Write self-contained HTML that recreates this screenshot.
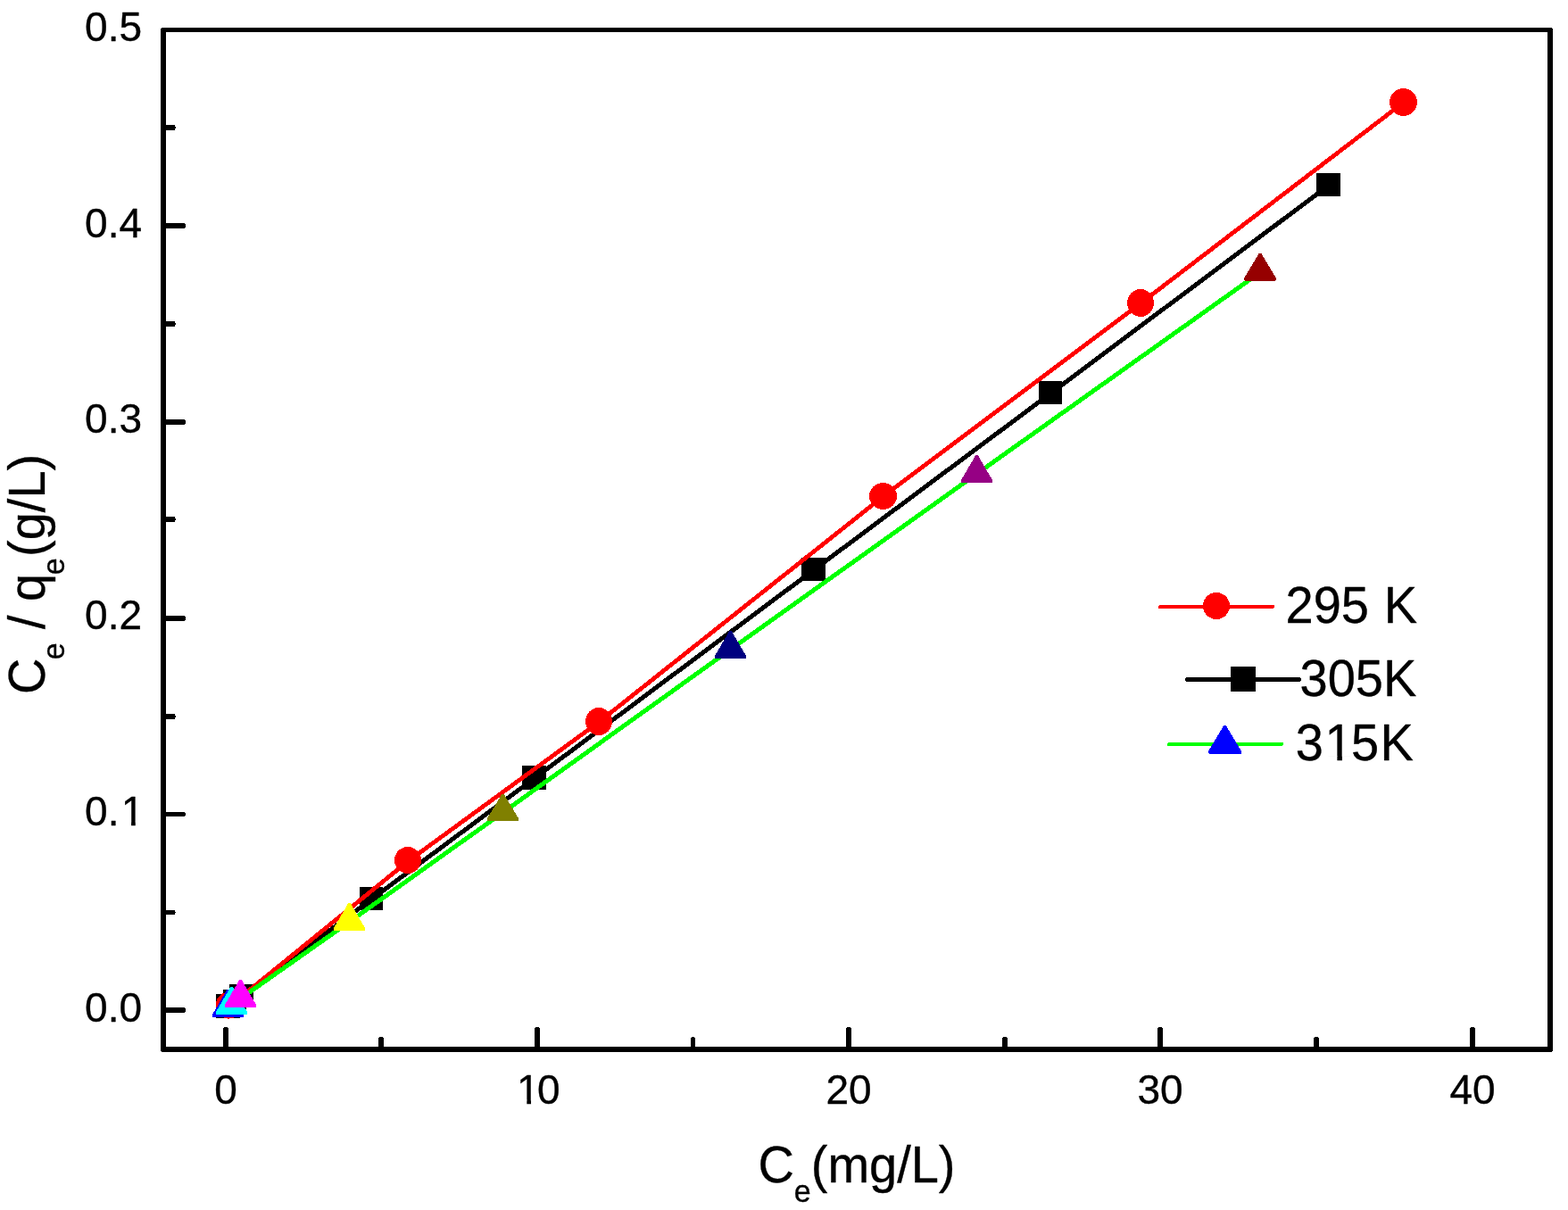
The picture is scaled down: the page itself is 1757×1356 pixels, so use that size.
<!DOCTYPE html>
<html lang="en">
<head>
<meta charset="utf-8">
<title>Ce / qe versus Ce</title>
<style>
html,body{margin:0;padding:0;background:#fff;}
body{width:1757px;height:1356px;overflow:hidden;}
svg{display:block;}
text{font-family:"Liberation Sans",sans-serif;fill:#000;stroke:#000;stroke-width:0.35px;stroke-linejoin:round;white-space:pre;}
.tick{font-size:46px;}
.lab{font-size:56px;}
.sub{font-size:34px;}
</style>
</head>
<body>
<svg width="1757" height="1356" viewBox="0 0 1757 1356">
<rect x="0" y="0" width="1757" height="1356" fill="#ffffff"/>
<g shape-rendering="crispEdges" fill="#000">
<rect x="181" y="31" width="1558" height="5"/>
<rect x="181" y="1173" width="1558" height="6"/>
<rect x="180" y="32" width="6" height="1146"/>
<rect x="1734" y="32" width="6" height="1146"/>
</g>
<g fill="#000" shape-rendering="crispEdges">
<rect x="250" y="1152" width="6" height="22"/><rect x="251" y="1151" width="4" height="1"/>
<rect x="599" y="1152" width="6" height="22"/><rect x="600" y="1151" width="4" height="1"/>
<rect x="948" y="1152" width="6" height="22"/><rect x="949" y="1151" width="4" height="1"/>
<rect x="1297" y="1152" width="6" height="22"/><rect x="1298" y="1151" width="4" height="1"/>
<rect x="1647" y="1152" width="6" height="22"/><rect x="1648" y="1151" width="4" height="1"/>
<rect x="424" y="1163" width="6" height="11"/><rect x="425" y="1162" width="4" height="1"/>
<rect x="774" y="1163" width="5" height="11"/><rect x="775" y="1162" width="3" height="1"/>
<rect x="1123" y="1163" width="6" height="11"/><rect x="1124" y="1162" width="4" height="1"/>
<rect x="1472" y="1163" width="6" height="11"/><rect x="1473" y="1162" width="4" height="1"/>
<rect x="185" y="1129" width="22" height="6"/><rect x="207" y="1130" width="1" height="4"/>
<rect x="185" y="910" width="22" height="5"/><rect x="207" y="911" width="1" height="3"/>
<rect x="185" y="690" width="22" height="6"/><rect x="207" y="691" width="1" height="4"/>
<rect x="185" y="470" width="22" height="6"/><rect x="207" y="471" width="1" height="4"/>
<rect x="185" y="250" width="22" height="6"/><rect x="207" y="251" width="1" height="4"/>
<rect x="185" y="1020" width="11" height="5"/><rect x="196" y="1022" width="1" height="1"/>
<rect x="185" y="800" width="11" height="6"/><rect x="196" y="802" width="1" height="2"/>
<rect x="185" y="579" width="11" height="6"/><rect x="196" y="581" width="1" height="2"/>
<rect x="185" y="360" width="11" height="6"/><rect x="196" y="362" width="1" height="2"/>
<rect x="185" y="140" width="11" height="6"/><rect x="196" y="142" width="1" height="2"/>
</g>
<text class="tick" transform="translate(95.05 1144.70) scale(1 1.01)">0.0</text>
<text class="tick" transform="translate(95.05 924.95) scale(1 1.01)" dx="0 0 2.39">0.1</text>
<text class="tick" transform="translate(95.05 705.20) scale(1 1.01)">0.2</text>
<text class="tick" transform="translate(95.05 485.45) scale(1 1.01)">0.3</text>
<text class="tick" transform="translate(95.05 265.70) scale(1 1.01)">0.4</text>
<text class="tick" transform="translate(95.05 45.95) scale(1 1.01)">0.5</text>
<text class="tick" transform="translate(240.21 1236.70) scale(1 1.01)">0</text>
<text class="tick" transform="translate(576.42 1236.70) scale(1 1.01)" dx="2.67 -2.67">10</text>
<text class="tick" transform="translate(925.42 1236.70) scale(1 1.01)">20</text>
<text class="tick" transform="translate(1274.42 1236.70) scale(1 1.01)">30</text>
<text class="tick" transform="translate(1624.42 1236.70) scale(1 1.01)">40</text>
<text class="lab" transform="translate(849.4 1325) scale(1 1.02)">C<tspan class="sub" dy="21.08">e</tspan><tspan dy="-21.08">(mg/L)</tspan></text>
<text class="lab" transform="translate(49.6 778) rotate(-90) scale(1 1.02)">C<tspan class="sub" dx="-1.8" dy="21.57">e</tspan><tspan dx="-0.2" dy="-21.57"> / q</tspan><tspan class="sub" dx="-1.5" dy="21.57">e</tspan><tspan dx="1.5" dy="-21.57">(g/L)</tspan></text>
<g shape-rendering="crispEdges">
<polyline points="255.5,1128.5 263.0,1123.0 270.5,1117.0 416.0,1008.0 598.5,872.5 911.5,639.0 1177.0,441.0 1488.5,208.0" fill="none" stroke="#000" stroke-width="5" stroke-linejoin="round" stroke-linecap="round"/>
<rect x="242" y="1114" width="27" height="27" fill="#000"/>
<rect x="250" y="1109" width="26" height="26" fill="#000"/>
<rect x="257" y="1103" width="27" height="26" fill="#000"/>
<rect x="403" y="994" width="26" height="26" fill="#000"/>
<rect x="585" y="858" width="27" height="27" fill="#000"/>
<rect x="898" y="625" width="27" height="26" fill="#000"/>
<rect x="1164" y="427" width="26" height="26" fill="#000"/>
<rect x="1475" y="194" width="27" height="26" fill="#000"/>
<polyline points="256.6,1128.1 457.0,965.3 671.0,809.3 989.5,556.5 1278.0,340.0 1572.5,115.0" fill="none" stroke="#ff0000" stroke-width="4.8" stroke-linejoin="round" stroke-linecap="round"/>
<ellipse cx="256.60" cy="1126.60" rx="14.98" ry="14.98" fill="#ff0000"/>
<ellipse cx="457.00" cy="964.00" rx="14.98" ry="14.98" fill="#ff0000"/>
<ellipse cx="671.00" cy="808.50" rx="14.98" ry="15.48" fill="#ff0000"/>
<ellipse cx="989.50" cy="556.00" rx="15.48" ry="14.98" fill="#ff0000"/>
<ellipse cx="1278.00" cy="339.50" rx="14.98" ry="15.48" fill="#ff0000"/>
<ellipse cx="1572.50" cy="114.50" rx="15.48" ry="15.48" fill="#ff0000"/>
<polyline points="255.5,1130.2 259.5,1127.0 269.5,1119.0 391.5,1033.1 563.5,910.5 818.5,727.9 1094.5,531.0 1412.0,305.2" fill="none" stroke="#00ff00" stroke-width="5" stroke-linejoin="round" stroke-linecap="round"/>
<polygon points="254.3,1109.0 256.7,1109.0 273.0,1137.0 273.0,1140.0 238.0,1140.0 238.0,1137.0" fill="#0000ff"/>
<polygon points="258.3,1106.0 260.7,1106.0 277.0,1134.0 277.0,1137.0 242.0,1137.0 242.0,1134.0" fill="#00ffff"/>
<polygon points="268.3,1098.0 270.7,1098.0 287.0,1126.0 287.0,1129.0 252.0,1129.0 252.0,1126.0" fill="#ff00ff"/>
<polygon points="390.3,1012.0 392.7,1012.0 409.0,1040.0 409.0,1043.0 374.0,1043.0 374.0,1040.0" fill="#ffff00"/>
<polygon points="562.3,890.0 564.7,890.0 581.0,917.0 581.0,920.0 546.0,920.0 546.0,917.0" fill="#808000"/>
<polygon points="817.3,707.0 819.7,707.0 836.0,735.0 836.0,738.0 801.0,738.0 801.0,735.0" fill="#000080"/>
<polygon points="1093.3,510.0 1095.7,510.0 1112.0,538.0 1112.0,541.0 1077.0,541.0 1077.0,538.0" fill="#960084"/>
<polygon points="1410.6,284.0 1413.4,284.0 1430.0,312.0 1430.0,313.8 1428.8,315.0 1395.2,315.0 1394.0,313.8 1394.0,312.0" fill="#960000"/>
</g>
<g shape-rendering="crispEdges">
<line x1="1300" y1="680" x2="1426" y2="680" stroke="#ff0000" stroke-width="4" stroke-linecap="round"/>
<circle cx="1363" cy="679" r="15" fill="#ff0000"/>
<line x1="1330.5" y1="761.5" x2="1455.5" y2="761.5" stroke="#000" stroke-width="5" stroke-linecap="round"/>
<rect x="1379" y="747" width="28" height="28" fill="#000"/>
<line x1="1310" y1="834" x2="1436" y2="834" stroke="#00ff00" stroke-width="4" stroke-linecap="round"/>
<polygon points="1371.3,813.0 1373.7,813.0 1391.0,842.0 1391.0,845.0 1355.0,845.0 1354.0,844.0 1354.0,842.0" fill="#0000ff"/>
</g>
<text class="lab" transform="translate(1440.50 698.00) scale(1 1.01)" dx="0 0 0 0 1.3">295 K</text>
<text class="lab" transform="translate(1456.50 780.00) scale(1 1.01)">305K</text>
<text class="lab" transform="translate(1451.80 852.00) scale(1 1.01)" dx="0 1.68 -1.68 1.2">315K</text>
<g fill="#ffffff">
<rect x="137.65" y="920.77" width="9.41" height="6.08"/>
<rect x="151.75" y="920.77" width="9.20" height="6.08"/>
<rect x="580.93" y="1232.52" width="9.41" height="6.08"/>
<rect x="595.03" y="1232.52" width="9.20" height="6.08"/>
<rect x="1486.86" y="847.06" width="11.52" height="6.84"/>
<rect x="1503.96" y="847.06" width="11.20" height="6.84"/>
</g>
</svg>
</body>
</html>
